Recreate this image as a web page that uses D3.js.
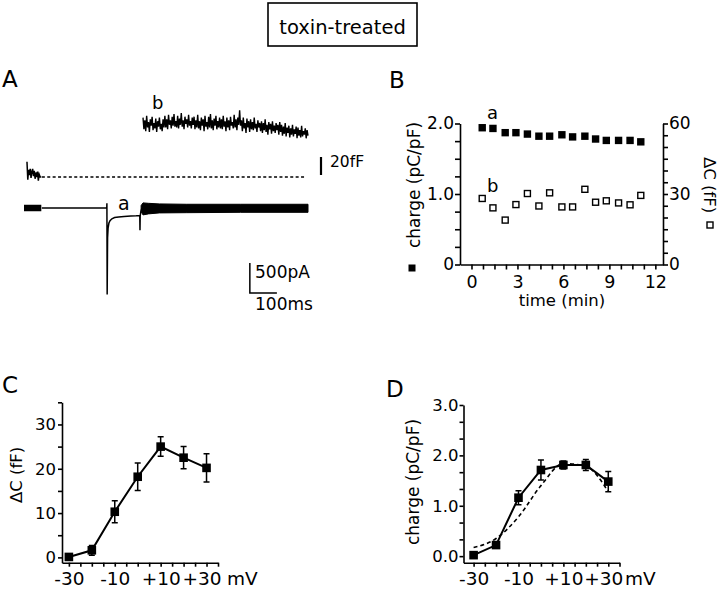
<!DOCTYPE html>
<html><head><meta charset="utf-8">
<script src="https://cdn.jsdelivr.net/npm/d3@7"></script>
<style>body{margin:0;background:#fff}</style>
</head><body>
<script>
// ---------------- DATA ----------------
const title = "toxin-treated";
// Panel A: current trace (time ms, pA)
const currentT = [66, 306, 306.5, 307.5, 309, 311, 314, 318, 325, 335, 350, 370, 395, 415, 428, 428.8, 429.6, 432, 436];
const currentV = [0, 0, 80, -1440, -500, -330, -250, -210, -180, -160, -150, -140, -135, -130, -125, -370, -130, -60, 0];
const preBandT = [0, 64];
const preBandV = [0, 0];
const postBandT = [433, 440, 460, 500, 600, 800, 1050];
const postBandHi = [40, 85, 78, 68, 62, 62, 62];
const postBandLo = [-60, -115, -98, -82, -78, -72, -72];
// Panel A: capacitance traces (fF)
const capStartT = [11, 14, 17, 20, 23, 26, 29, 32, 35, 38, 41, 44, 47, 50, 53, 56, 60, 64];
const capStartV = [17, -3, 8, 2, 9, -1, 6, 9, 1, 7, -2, 5, 0, 6, -4, 3, 0, 0];
const dashT = [66, 1040];
const dashV = [0, 0];
const traceBStart = 440, traceBEnd = 1050;
const traceB = [
  66,53,63,51,68,55,61,50,64,57,67,52,60,54,65,50,62,56,66,53,59,51,64,55,
  68,55,64,53,69,58,63,54,67,57,70,56,62,55,68,54,65,58,71,56,63,53,67,59,64,55,69,57,62,54,66,58,
  67,53,63,55,69,54,62,52,66,57,64,51,68,56,61,53,67,55,70,54,63,52,65,57,68,53,62,55,66,54,
  64,53,68,56,62,51,66,55,63,52,67,57,61,54,69,55,64,52,66,58,
  74,57,
  63,51,66,54,60,49,65,55,62,50,64,53,61,52,66,54,59,50,63,55,60,51,
  62,49,60,52,64,50,58,47,61,53,59,48,62,51,57,49,60,52,58,47,61,50,
  58,46,56,48,60,45,55,49,57,44,54,47,58,45,53,48,56,43,55,46,52,44,57,45,51,47,54,43,52,46];
// Panel B
const timeMin = [0.7, 1.4, 2.2, 2.9, 3.65, 4.4, 5.1, 5.9, 6.6, 7.4, 8.1, 8.8, 9.6, 10.35, 11.05];
const chargeB = [1.94, 1.93, 1.87, 1.87, 1.85, 1.82, 1.82, 1.84, 1.81, 1.82, 1.78, 1.76, 1.76, 1.76, 1.74];
const deltaCB = [28.1, 24.1, 18.9, 25.5, 30.2, 24.9, 30.5, 24.5, 24.5, 32.0, 26.5, 27.1, 26.2, 25.4, 29.4];
const bXLabels = [0, 3, 6, 9, 12];
// Panel C
const voltages = [-30, -20, -10, 0, 10, 20, 30];
const deltaC = [0.1, 1.6, 10.3, 18.2, 25.0, 22.5, 20.2];
const deltaCErr = [0.3, 1.1, 2.5, 3.1, 2.2, 2.5, 3.2];
// Panel D
const charge = [0.02, 0.22, 1.16, 1.71, 1.81, 1.81, 1.48];
const chargeErr = [0.03, 0.05, 0.14, 0.20, 0.08, 0.11, 0.20];
const chargeCtrl = [0.17, 0.35, 0.78, 1.40, 1.84, 1.78, 1.28];
const vLabels = [-30, -10, 10, 30];

// ---------------- DRAW ----------------
const FONT = "'DejaVu Sans', 'Liberation Sans', sans-serif";
const svg = d3.select("body").append("svg")
  .attr("width", 720).attr("height", 590)
  .style("font-family", FONT);
svg.append("rect").attr("width", 720).attr("height", 590).attr("fill", "#fff");

function txt(x, y, s, size, anchor, rot) {
  const t = svg.append("text").attr("x", x).attr("y", y).text(s)
    .attr("font-size", size).attr("fill", "#000")
    .attr("text-anchor", anchor || "start");
  if (rot) t.attr("transform", `rotate(${rot},${x},${y})`);
  return t;
}
function styleAxis(g) {
  g.selectAll("path, line").attr("stroke", "#000").attr("stroke-width", 1.6);
  g.selectAll("text").attr("fill", "#000").attr("font-family", FONT);
}

// Title
svg.append("rect").attr("x", 268).attr("y", 3).attr("width", 149).attr("height", 43)
  .attr("fill", "none").attr("stroke", "#000").attr("stroke-width", 1.6);
txt(342.5, 33.5, title, 19.5, "middle");

// Panel letters
txt(2, 87, "A", 23);
txt(389, 88, "B", 23);
txt(2, 393, "C", 23);
txt(386, 397, "D", 23);

// ---------- Panel A ----------
const xA = d3.scaleLinear().domain([0, 1050]).range([24, 308]);
const yI = d3.scaleLinear().domain([0, -1500]).range([208, 298]);
const yCap = d3.scaleLinear().domain([0, 20]).range([177, 159]);

const lineI = d3.line().x(d => xA(d[0])).y(d => yI(d[1]));
svg.append("path").attr("d", lineI(d3.zip(currentT, currentV)))
  .attr("fill", "none").attr("stroke", "#000").attr("stroke-width", 1.5);
svg.append("path").attr("d", lineI(d3.zip(preBandT, preBandV)))
  .attr("fill", "none").attr("stroke", "#000").attr("stroke-width", 6.5);
const areaI = d3.area().x(d => xA(d[0])).y0(d => yI(d[1])).y1(d => yI(d[2]));
svg.append("path").attr("d", areaI(d3.zip(postBandT, postBandHi, postBandLo)))
  .attr("fill", "#000").attr("stroke", "#000").attr("stroke-width", 1);

const lineC = d3.line().x(d => xA(d[0])).y(d => yCap(d[1]));
svg.append("path").attr("d", lineC(d3.zip(capStartT, capStartV)))
  .attr("fill", "none").attr("stroke", "#000").attr("stroke-width", 1.5);
svg.append("path").attr("d", lineC(d3.zip(dashT, dashV)))
  .attr("fill", "none").attr("stroke", "#000").attr("stroke-width", 1.3)
  .attr("stroke-dasharray", "3,2.4");
const idxB = d3.scaleLinear().domain([0, traceB.length - 1]).range([traceBStart, traceBEnd]);
svg.append("path").attr("d", lineC(traceB.map((v, i) => [idxB(i), v])))
  .attr("fill", "none").attr("stroke", "#000").attr("stroke-width", 1.4);

txt(152, 109, "b", 18);
txt(118, 210, "a", 19);

// 20 fF scale bar
const capBarBottom = 175;
svg.append("line").attr("x1", 321).attr("x2", 321)
  .attr("y1", capBarBottom).attr("y2", capBarBottom - (yCap(0) - yCap(20)))
  .attr("stroke", "#000").attr("stroke-width", 2.2);
txt(330, 167, "20fF", 15.5);
// 500 pA / 100 ms scale bar
const sbX = xA(835), sbY = 293;
svg.append("path")
  .attr("d", `M${sbX},${sbY - (yI(-500) - yI(0))}V${sbY}H${sbX + (xA(935) - xA(835))}`)
  .attr("fill", "none").attr("stroke", "#000").attr("stroke-width", 1.5);
txt(255, 278, "500pA", 17);
txt(255, 310, "100ms", 17);

// ---------- Panel B ----------
const xB = d3.scaleLinear().domain([-0.75, 12.5]).range([460, 663]);
const yB = d3.scaleLinear().domain([0, 2]).range([264.5, 123.5]);
const yB2 = d3.scaleLinear().domain([0, 60]).range([264.5, 123.5]);

const gBx = svg.append("g").attr("transform", "translate(0,264.5)")
  .call(d3.axisBottom(xB).tickValues(d3.range(0, 12.01, 0.75)).tickSize(5).tickSizeOuter(0)
    .tickFormat(d => bXLabels.includes(d) ? String(d) : ""));
styleAxis(gBx);
gBx.selectAll("text").attr("font-size", 17.5).attr("dy", null).attr("y", 23.5);

const gBl = svg.append("g").attr("transform", "translate(460,0)")
  .call(d3.axisLeft(yB).tickValues(d3.range(0, 2.01, 0.25)).tickSize(5).tickSizeOuter(0).tickPadding(1)
    .tickFormat(d => d === 0 ? "0" : (d === 1 || d === 2) ? d.toFixed(1) : ""));
styleAxis(gBl);
gBl.selectAll("text").attr("font-size", 17);

const gBr = svg.append("g").attr("transform", "translate(663,0)")
  .call(d3.axisRight(yB2).tickValues(d3.range(0, 60.1, 5)).tickSize(5).tickSizeOuter(0).tickPadding(1)
    .tickFormat(d => (d % 30 === 0) ? String(d) : ""));
styleAxis(gBr);
gBr.selectAll("text").attr("font-size", 17);

svg.append("g").selectAll("rect.f").data(d3.zip(timeMin, chargeB)).join("rect")
  .attr("x", d => xB(d[0]) - 3.7).attr("y", d => yB(d[1]) - 3.7)
  .attr("width", 7.4).attr("height", 7.4).attr("fill", "#000");
svg.append("g").selectAll("rect.o").data(d3.zip(timeMin, deltaCB)).join("rect")
  .attr("x", d => xB(d[0]) - 3).attr("y", d => yB2(d[1]) - 3)
  .attr("width", 6).attr("height", 6).attr("fill", "#fff")
  .attr("stroke", "#000").attr("stroke-width", 1.4);

txt(487, 119, "a", 18);
txt(487, 192, "b", 18);

txt(420, 185, "charge (pC/pF)", 17, "middle", -90);
svg.append("rect").attr("x", 408.5).attr("y", 264.5).attr("width", 7).attr("height", 7).attr("fill", "#000");
txt(704, 185, "ΔC (fF)", 16.5, "middle", 90);
svg.append("rect").attr("x", 707).attr("y", 222).attr("width", 6).attr("height", 6)
  .attr("fill", "#fff").attr("stroke", "#000").attr("stroke-width", 1.4);
txt(562, 306, "time (min)", 16.5, "middle");

// ---------- Panel C ----------
const xC = d3.scaleLinear().domain([-33, 35]).range([62, 218]);
const yC = d3.scaleLinear().domain([-1.2, 35]).range([562.7, 402.3]);
function voltAxis(scale, ty) {
  const g = svg.append("g").attr("transform", `translate(0,${ty})`)
    .call(d3.axisBottom(scale).tickValues(d3.range(-30, 35.1, 5)).tickSize(4).tickSizeOuter(0)
      .tickFormat(d => vLabels.includes(d) ? (d > 0 ? "+" + d : String(d)) : ""));
  styleAxis(g);
  g.selectAll("text").attr("font-size", 18.5).attr("dy", null).attr("y", 22.3)
    .attr("dx", d => d === 30 ? -5 : 0);
  return g;
}
voltAxis(xC, 562.7);
const gCy = svg.append("g").attr("transform", "translate(62,0)")
  .call(d3.axisLeft(yC).tickValues(d3.range(0, 35.1, 5)).tickSize(4).tickSizeOuter(0).tickPadding(2)
    .tickFormat(d => d % 10 === 0 ? String(d) : ""));
styleAxis(gCy);
gCy.selectAll("text").attr("font-size", 16.5);
txt(227, 585, "mV", 18.5);
txt(22, 475, "ΔC (fF)", 16.5, "middle", -90);

function errPlot(xs, ys, ms, es, xScale, yScale) {
  const g = svg.append("g");
  xs.forEach((v, i) => {
    const x = xScale(v), y0 = yScale(ms[i] - es[i]), y1 = yScale(ms[i] + es[i]);
    g.append("path").attr("d", `M${x},${y0}V${y1}M${x - 3},${y0}H${x + 3}M${x - 3},${y1}H${x + 3}`)
      .attr("stroke", "#000").attr("stroke-width", 1.5).attr("fill", "none");
  });
  g.append("path").attr("d", d3.line().x(d => xScale(d[0])).y(d => yScale(d[1]))(d3.zip(xs, ms)))
    .attr("fill", "none").attr("stroke", "#000").attr("stroke-width", 2);
  g.selectAll("rect").data(d3.zip(xs, ms)).join("rect")
    .attr("x", d => xScale(d[0]) - 4.3).attr("y", d => yScale(d[1]) - 4.3)
    .attr("width", 8.6).attr("height", 8.6).attr("fill", "#000");
}
errPlot(voltages, deltaC, deltaC, deltaCErr, xC, yC);

// ---------- Panel D ----------
const xD = d3.scaleLinear().domain([-34.5, 35]).range([463.5, 619.5]);
const yD = d3.scaleLinear().domain([-0.13, 3.0]).range([562.7, 405]);
voltAxis(xD, 562.7);
const gDy = svg.append("g").attr("transform", "translate(463.5,0)")
  .call(d3.axisLeft(yD).tickValues(d3.range(0, 10).map(i => i / 3)).tickSize(4).tickSizeOuter(0).tickPadding(1)
    .tickFormat(d => Math.abs(d - Math.round(d)) < 1e-9 ? d.toFixed(1) : ""));
styleAxis(gDy);
gDy.selectAll("text").attr("font-size", 16.5);
txt(625, 585, "mV", 18.5);
txt(419, 482, "charge (pC/pF)", 17, "middle", -90);

svg.append("path")
  .attr("d", d3.line().curve(d3.curveMonotoneX).x(d => xD(d[0])).y(d => yD(d[1]))(d3.zip(voltages, chargeCtrl)))
  .attr("fill", "none").attr("stroke", "#000").attr("stroke-width", 1.6).attr("stroke-dasharray", "4,3");
errPlot(voltages, charge, charge, chargeErr, xD, yD);
</script>
</body></html>
